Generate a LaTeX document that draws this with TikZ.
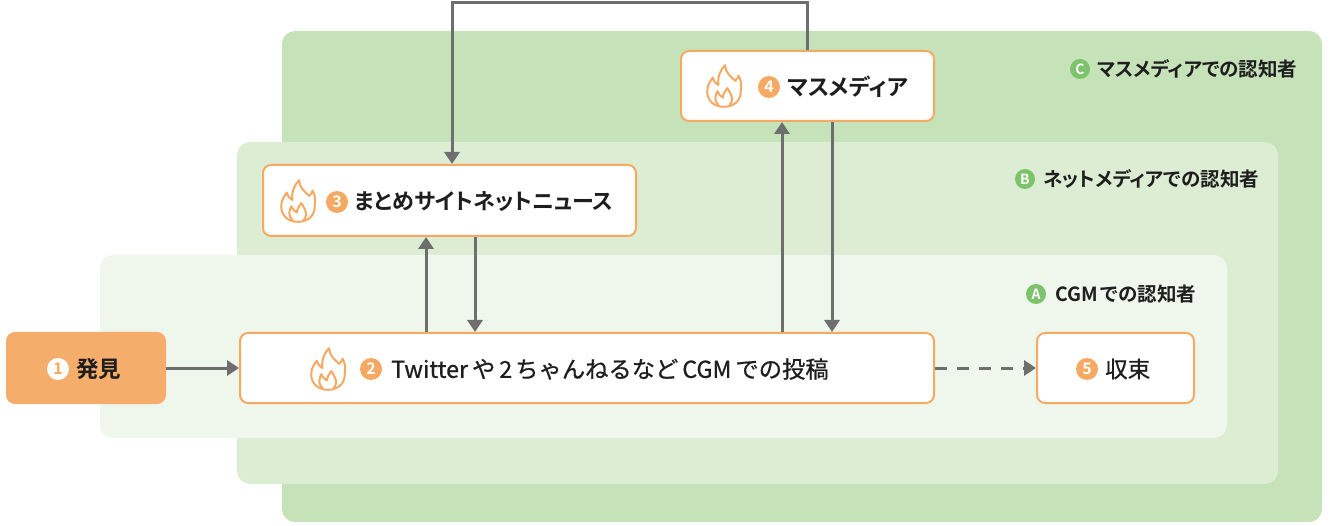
\documentclass[tikz,border=0pt]{standalone}
\usepackage{fontspec}
\setmainfont{Noto Sans CJK JP}[BoldFont={* Bold}, RawFeature=+palt]
\newfontfamily\jpmed{Noto Sans CJK JP}[FakeBold=0.7]
\usetikzlibrary{arrows.meta}
\definecolor{gC}{HTML}{C6E2B9}
\definecolor{gB}{HTML}{DDEDD4}
\definecolor{gA}{HTML}{EFF6EC}
\definecolor{gdot}{HTML}{7DC36C}
\definecolor{org}{HTML}{F5A962}
\definecolor{orgfill}{HTML}{F5AD6B}
\definecolor{arr}{HTML}{6E6E6E}
\definecolor{txt}{HTML}{1E1E1E}
\tikzset{
  region/.style={rounded corners=13pt, draw=none},
  box/.style={draw=org, line width=2pt, fill=white, rounded corners=8pt, inner sep=0pt, minimum height=70pt},
  num/.style={circle, fill=org, text=white, inner sep=0pt, minimum size=22pt, font=\fontsize{16}{16}\selectfont\bfseries},
  lab/.style={anchor=west, inner sep=0pt, text=txt, font=\fontsize{22.5}{23}\selectfont\bfseries},
  medlab/.style={anchor=west, inner sep=0pt, text=txt, font=\fontsize{23.3}{24}\jpmed},
  glab/.style={anchor=west, inner sep=0pt, text=txt, font=\fontsize{19.5}{20}\selectfont\bfseries},
  gnum/.style={circle, fill=gdot, text=white, inner sep=0pt, minimum size=20pt, font=\fontsize{14}{14}\selectfont\bfseries},
  conn/.style={draw=arr, line width=3pt, -{Triangle[width=15pt,length=12pt]}},
  flame/.pic={
    \begin{scope}[xscale=1.12, yscale=1.04]
    \draw[org, line width=2pt, line join=round, line cap=round]
      (0,20) .. controls (-9,20) and (-15,14) .. (-15,5)
      .. controls (-15,-1) and (-12,-5) .. (-10,-8)
      .. controls (-9,-4) and (-7,-2) .. (-5,-1)
      .. controls (-6,-9) and (-3,-16) .. (1,-20)
      .. controls (1,-13) and (6,-9) .. (10,-5)
      .. controls (12,-7) and (13,-9) .. (13,-10)
      .. controls (15,-6) and (16,-1) .. (15,5)
      .. controls (15,14) and (9,20) .. (0,20);
    \draw[org, line width=2pt, line join=round, line cap=round]
      (-5,18) .. controls (-9,15) and (-8,9) .. (-6,5)
      .. controls (-5,8) and (-3,10) .. (-1,11)
      .. controls (-1,8) and (1,5) .. (3,2)
      .. controls (5,6) and (8,10) .. (7,14)
      .. controls (7,16) and (6,17) .. (5,18);
    \end{scope}
  }
}
\begin{document}
\begin{tikzpicture}[x=1pt, y=-1pt]
\useasboundingbox (0,0) rectangle (1330,526);
% regions
\fill[gC, region] (282,31) rectangle (1322,522);
\fill[gB, region] (237,142) rectangle (1278,484);
\fill[gA, region] (100,255) rectangle (1227,438);
% region labels
\node[gnum] (cc) at (1080,69) {C};
\node[glab] (cl) at (1097,69) {マスメディアでの認知者};
\node[gnum] (bc) at (1025,179) {B};
\node[glab] (bl) at (1043,179) {ネットメディアでの認知者};
\node[gnum] (ac) at (1036,294) {A};
\node[glab] (al) at (1055,294) {CGM\kern3pt での認知者};
% boxes
\node[box, fill=orgfill, draw=orgfill, minimum width=158pt] (n1) at (86,368) {};
\node[box, minimum width=694pt] (n2) at (587,368) {};
\node[box, minimum width=373pt, minimum height=71pt] (n3) at (449.5,200.5) {};
\node[box, minimum width=253pt] (n4) at (807.5,86) {};
\node[box, minimum width=157pt] (n5) at (1115.5,368) {};
% contents
\node[num, fill=white, text=org] (c1) at (58,369) {1};
\node[lab] (t1) at (76,369) {発見};
\pic at (328,369) {flame};
\node[num] (c2) at (371,369) {2};
\node[medlab] (t2) at (391,369) {Twitter\kern4pt や\kern4pt 2\kern3pt ちゃんねるなど\kern4pt CGM\kern4pt での投稿};
\pic at (298,201) {flame};
\node[num] (c3) at (337,202) {3};
\node[lab, font=\fontsize{22}{23}\selectfont\bfseries] (t3) at (354,202) {まとめサイトネットニュース};
\pic at (724,86) {flame};
\node[num] (c4) at (769,87) {4};
\node[lab] (t4) at (787,87) {マスメディア};
\node[num] (c5) at (1087,369) {5};
\node[medlab, font=\fontsize{22.5}{23}\jpmed] (t5) at (1105,369) {収束};
% connectors
\coordinate (u3) at (426,0);
\coordinate (d3) at (475,0);
\coordinate (u4) at (782,0);
\coordinate (d4) at (832,0);
\coordinate (topy) at (0,3);
\coordinate (lx) at (452,0);
\draw[conn] (n1.east) -- (n2.west);
\draw[conn] (n2.north -| u3) -- (n3.south -| u3);
\draw[conn] (n3.south -| d3) -- (n2.north -| d3);
\draw[conn] (n2.north -| u4) -- (n4.south -| u4);
\draw[conn] (n4.south -| d4) -- (n2.north -| d4);
\draw[conn] (n4.north) -- (n4.north |- topy) -- (lx |- topy) -- (n3.north -| lx);
\draw[conn, dash pattern=on 12pt off 10pt] (n2.east) -- (n5.west);
\end{tikzpicture}
\end{document}
